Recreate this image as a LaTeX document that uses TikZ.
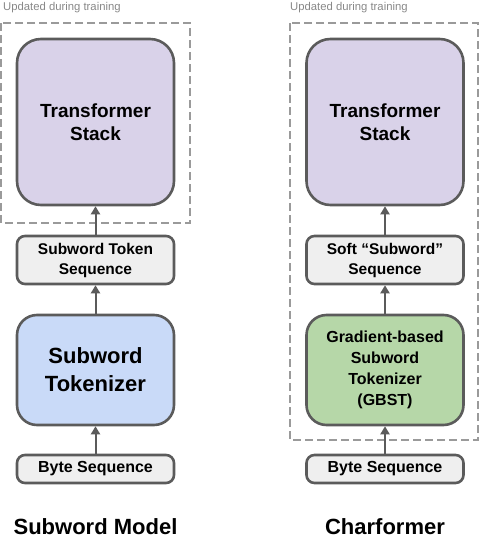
\documentclass[tikz,border=0pt]{standalone}
\usepackage{fontspec}
\setmainfont{Liberation Sans}
\usetikzlibrary{arrows.meta}

\definecolor{edgegray}{HTML}{5B5B5B}
\definecolor{dashgray}{HTML}{9A9A9A}
\definecolor{notegray}{HTML}{888888}
\definecolor{stackfill}{HTML}{D9D2E9}
\definecolor{tokfill}{HTML}{C9DAF8}
\definecolor{gbstfill}{HTML}{B6D7A8}
\definecolor{seqfill}{HTML}{EFEFEF}

\begin{document}
\begin{tikzpicture}[x=1pt, y=-1pt,
    block/.style = {draw=edgegray, line width=2.6pt, align=center,
                    font=\bfseries, inner sep=0pt},
    bigblock/.style = {block, minimum width=157pt, rounded corners=24pt},
    seqblock/.style = {block, fill=seqfill, minimum width=157pt,
                       rounded corners=8pt, font=\bfseries\fontsize{15.5}{20}\selectfont},
    trainbox/.style = {draw=dashgray, line width=1.6pt, dash pattern=on 8pt off 4pt},
    note/.style = {anchor=base west, text=notegray, inner sep=0pt,
                   font=\fontsize{11.3}{13}\selectfont},
    title/.style = {anchor=base, inner sep=0pt, font=\bfseries\fontsize{22}{26}\selectfont},
    flow/.style = {draw=edgegray, line width=2pt,
                   -{Triangle[width=9pt, length=8pt]}}]
    \useasboundingbox (0,0) rectangle (480,538);

    % dashed regions
    \draw[trainbox] (1,23) rectangle (190,223);
    \draw[trainbox] (290,23) rectangle (478,440);
    \node[note] (updL) at (3,10) {Updated during training};
    \node[note] (updR) at (290,10) {Updated during training};

    % subword model
    \node[bigblock, fill=stackfill, minimum height=166pt,
          font=\bfseries\fontsize{19}{23}\selectfont] (stackL) at (95.5,122) {Transformer\\Stack};
    \node[seqblock, minimum height=48pt] (tokseq) at (95.5,260) {Subword Token\\Sequence};
    \node[bigblock, fill=tokfill, minimum height=110pt, rounded corners=20pt,
          font=\bfseries\fontsize{22}{28}\selectfont] (subtok) at (95.5,370) {Subword\\Tokenizer};
    \node[seqblock, minimum height=28pt, font=\bfseries\fontsize{16}{20}\selectfont]
        (byteL) at (95.5,469) {Byte Sequence};
    \node[title] (titleL) at (95.5,534.5) {Subword Model};

    % charformer
    \node[bigblock, fill=stackfill, minimum height=166pt,
          font=\bfseries\fontsize{19}{23}\selectfont] (stackR) at (385,122) {Transformer\\Stack};
    \node[seqblock, minimum height=48pt] (softseq) at (385,260) {Soft “Subword”\\Sequence};
    \node[bigblock, fill=gbstfill, minimum height=110pt, rounded corners=20pt,
          font=\bfseries\fontsize{16}{21}\selectfont] (gbst) at (385,370)
          {Gradient-based\\Subword\\Tokenizer\\(GBST)};
    \node[seqblock, minimum height=28pt, font=\bfseries\fontsize{16}{20}\selectfont]
        (byteR) at (385,469) {Byte Sequence};
    \node[title] (titleR) at (385,534.5) {Charformer};

    % arrows
    \draw[flow] (byteL) -- (subtok);
    \draw[flow] (subtok) -- (tokseq);
    \draw[flow] (tokseq) -- (stackL);
    \draw[flow] (byteR) -- (gbst);
    \draw[flow] (gbst) -- (softseq);
    \draw[flow] (softseq) -- (stackR);
\end{tikzpicture}
\end{document}
